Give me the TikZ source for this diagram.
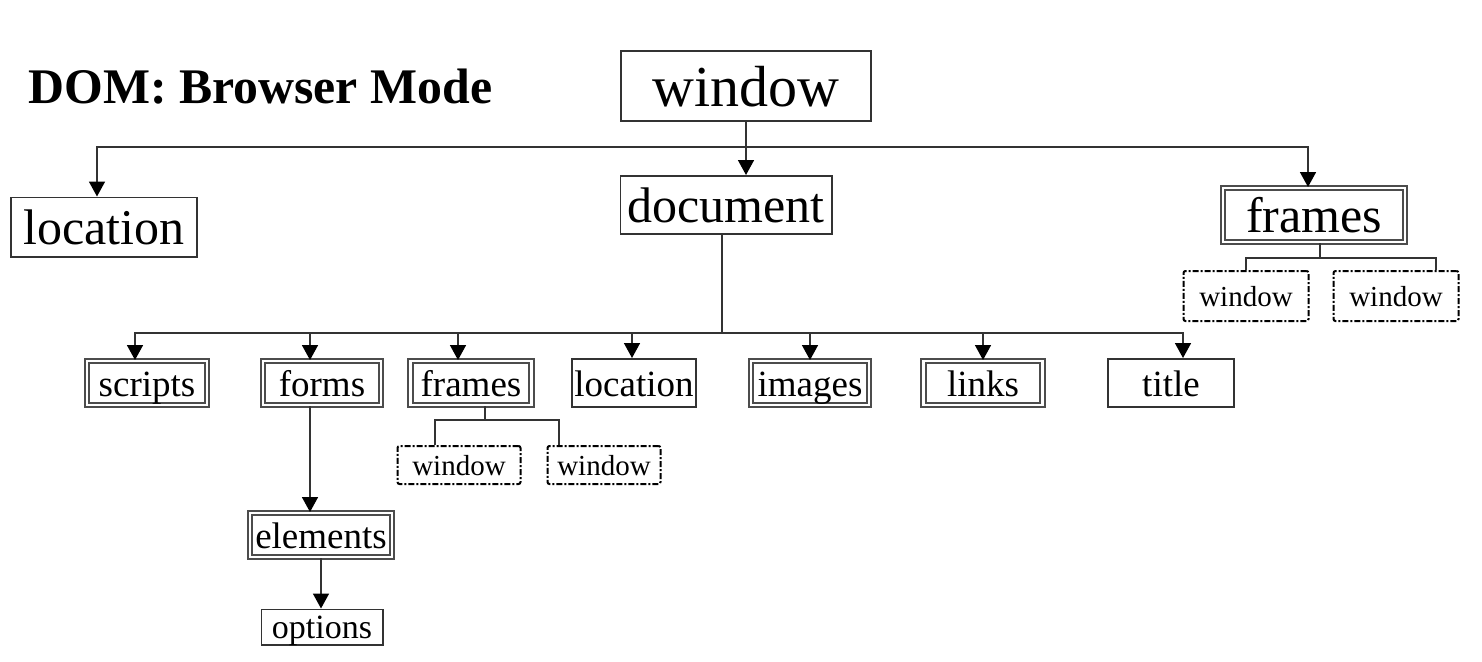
\documentclass[tikz,border=0pt]{standalone}
\usepackage{fontspec}
\setmainfont{Liberation Serif}
\usetikzlibrary{arrows.meta}
\tikzset{
  objbox/.style={draw=black!80, line width=0.9pt, inner sep=0pt, fill=white},
  collbox/.style={draw=black!70, line width=1pt, double=white, double distance=1.3pt, inner sep=0pt},
  winbox/.style={draw=black, line width=1pt, dash pattern=on 3pt off 1pt on 1pt off 1pt, rounded corners=1pt, inner sep=0pt,
    font=\fontsize{14.5}{14.5}\selectfont, text height=10pt, text depth=0pt},
  huge/.style={font=\fontsize{29}{29}\selectfont, text height=20pt, text depth=0pt},
  big/.style={font=\fontsize{25}{25}\selectfont, text height=17pt, text depth=0pt},
  mid/.style={font=\fontsize{18.5}{18.5}\selectfont, text height=13.5pt, text depth=0pt},
  link/.style={draw=black!80, line width=0.8pt},
  arr/.style={link, -{Triangle[width=8pt,length=7.5pt,color=black]}}
}
\begin{document}
\begin{tikzpicture}[x=0.5pt,y=-0.5pt]
\useasboundingbox (0,0) rectangle (1482,661);
\node[anchor=base west, inner sep=0pt, font=\bfseries\fontsize{24.9}{24.9}\selectfont] (heading) at (28,103) {DOM: Browser Mode};
%top level
\node[objbox, huge, minimum width=125.1pt, minimum height=35.1pt] (window) at (746,86) {window};
\node[objbox, big, minimum width=93.1pt, minimum height=29.6pt] (location) at (104,227) {location};
\node[objbox, big, minimum width=105.6pt, minimum height=29.1pt] (document) at (726,205) {document};
\node[collbox, big, minimum width=91pt, minimum height=27pt] (frames) at (1314,215) {frames};
\node[winbox, minimum width=62.5pt, minimum height=25pt] (fwinA) at (1246,296) {window};
\node[winbox, minimum width=62.5pt, minimum height=25pt] (fwinB) at (1396,296) {window};
%document children
\node[collbox, mid, minimum width=60pt, minimum height=22pt] (scripts) at (147,383) {scripts};
\node[collbox, mid, minimum width=59pt, minimum height=22pt] (forms) at (322,383) {forms};
\node[collbox, mid, minimum width=60.5pt, minimum height=22pt] (dframes) at (471,383) {frames};
\node[objbox, mid, minimum width=62.1pt, minimum height=24.1pt] (dlocation) at (634,383) {location};
\node[collbox, mid, minimum width=59pt, minimum height=22pt] (images) at (810,383) {images};
\node[collbox, mid, minimum width=59.5pt, minimum height=22pt] (links) at (983,383) {links};
\node[objbox, mid, minimum width=63.1pt, minimum height=24.1pt] (title) at (1171,383) {title};
\node[winbox, minimum width=61.5pt, minimum height=19pt] (dwinA) at (459,465) {window};
\node[winbox, minimum width=56.5pt, minimum height=19pt] (dwinB) at (604,465) {window};
%forms
\node[collbox, mid, minimum width=71pt, minimum height=22pt] (elements) at (321,535) {elements};
\node[objbox, font=\fontsize{17}{17}\selectfont, text height=11pt, text depth=0pt, minimum width=60.6pt, minimum height=17.6pt] (options) at (322,627) {options};

%connectors
\coordinate (winbus) at (746,147);
\coordinate (docbus) at (722,333);
\coordinate (fbus) at (1320,258);
\coordinate (dfbus) at (485,420);
\draw[arr] (window.south) -- (window.south |- document.north);
\draw[arr] (winbus) -| ([xshift=-3.5pt]location.north);
\draw[arr] (winbus) -| ([xshift=-3pt]frames.north);
\draw[link] (document.south -| docbus) -- (docbus);
\draw[arr] (docbus) -| ([xshift=-6pt]scripts.north);
\draw[arr] (docbus) -| ([xshift=-6pt]forms.north);
\draw[arr] (docbus) -| ([xshift=-6.5pt]dframes.north);
\draw[arr] (docbus) -| ([xshift=-1pt]dlocation.north);
\draw[arr] (docbus) -| (images.north);
\draw[arr] (docbus) -| (links.north);
\draw[arr] (docbus) -| ([xshift=6pt]title.north);
\draw[link] (frames.south -| fbus) -- (fbus);
\draw[link] (fbus) -| (fwinA.north);
\draw[link] (fbus) -| ([xshift=20pt]fwinB.north);
\draw[link] (dframes.south -| dfbus) -- (dfbus);
\draw[link] (dfbus) -| ([xshift=-12pt]dwinA.north);
\draw[link] (dfbus) -| ([xshift=-22.5pt]dwinB.north);
\draw[arr] ([xshift=-6pt]forms.south) -- ([xshift=-6pt]forms.south |- elements.north);
\draw[arr] (elements.south) -- (elements.south |- options.north);
\end{tikzpicture}
\end{document}
